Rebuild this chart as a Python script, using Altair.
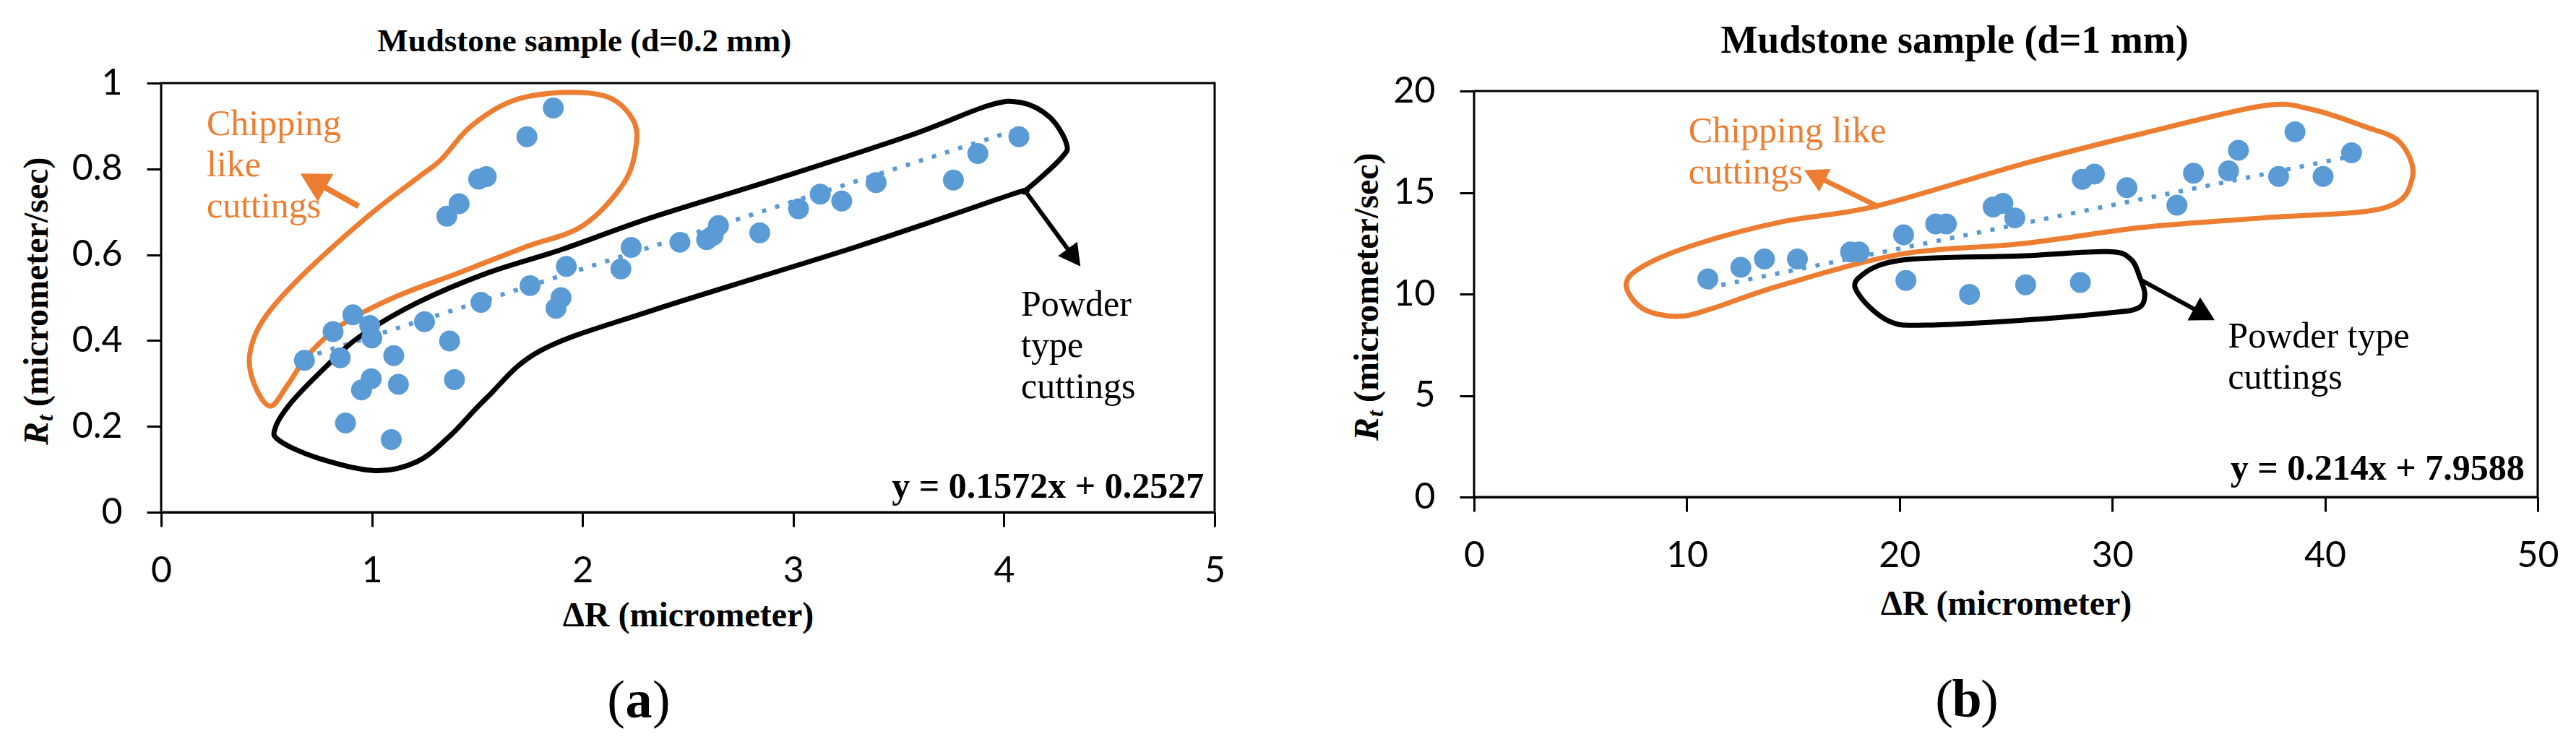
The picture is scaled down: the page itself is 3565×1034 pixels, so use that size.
import math
import altair as alt
import pandas as pd

# ---------------- data ----------------
# Panel (a): Mudstone sample (d=0.2 mm)
a_dr = [0.68, 0.816, 0.85, 0.91, 0.99, 1.0, 0.875, 0.951, 0.997, 1.092, 1.104, 1.126,
        1.25, 1.369, 1.392, 1.356, 1.414, 1.507, 1.543, 1.736, 1.861, 1.518, 1.751,
        1.874, 1.898, 1.923, 2.182, 2.231, 2.462, 2.589, 2.62, 2.645, 2.841, 3.025,
        3.128, 3.23, 3.393, 3.76, 3.876, 4.071]
a_rt = [0.354, 0.421, 0.36, 0.46, 0.435, 0.406, 0.208, 0.285, 0.311, 0.169, 0.365, 0.298,
        0.444, 0.399, 0.309, 0.69, 0.719, 0.776, 0.782, 0.875, 0.942, 0.489, 0.528,
        0.475, 0.5, 0.573, 0.567, 0.617, 0.629, 0.635, 0.645, 0.668, 0.651, 0.707,
        0.741, 0.725, 0.768, 0.774, 0.836, 0.875]
a_slope, a_intercept = 0.1572, 0.2527
a_eq = "y = 0.1572x + 0.2527"

# Panel (b): Mudstone sample (d=1 mm)
b_dr = [10.99, 12.54, 13.65, 15.20, 17.7, 18.1, 20.19, 21.7, 22.2, 24.40, 24.86, 25.42,
        28.59, 29.16, 30.69, 33.04, 33.82, 35.47, 35.93, 37.82, 38.59, 39.91, 41.25,
        20.30, 23.29, 25.93, 28.50]
b_rt = [10.75, 11.32, 11.73, 11.73, 12.07, 12.07, 12.92, 13.45, 13.45, 14.29, 14.47, 13.75,
        15.65, 15.91, 15.24, 14.38, 15.95, 16.07, 17.08, 15.79, 17.99, 15.79, 16.96,
        10.67, 9.98, 10.45, 10.57]
b_slope, b_intercept = 0.214, 7.9588
b_eq = "y = 0.214x + 7.9588"

# hand-drawn enclosures (data units)
a_chip_x = [0.518, 0.443, 0.420, 0.483, 0.660, 0.975, 1.211, 1.329, 1.467, 1.664, 1.900, 2.117,
            2.235, 2.255, 2.196, 1.999, 1.723, 1.408, 1.113, 0.857, 0.699, 0.601]
a_chip_y = [0.247, 0.297, 0.367, 0.447, 0.547, 0.687, 0.777, 0.822, 0.898, 0.958, 0.978, 0.968,
            0.918, 0.858, 0.767, 0.667, 0.617, 0.557, 0.502, 0.437, 0.367, 0.297]
a_pow_x = [0.542, 0.620, 0.778, 0.936, 1.211, 1.546, 1.900, 2.330, 2.942, 3.554, 3.922, 4.079,
           4.216, 4.296, 4.273, 4.102, 4.045, 3.309, 2.329, 1.802, 1.546, 1.369, 1.211, 1.014,
           0.739, 0.561]
a_pow_y = [0.197, 0.257, 0.337, 0.407, 0.487, 0.557, 0.612, 0.687, 0.780, 0.878, 0.947, 0.955,
           0.921, 0.860, 0.826, 0.750, 0.742, 0.620, 0.470, 0.377, 0.267, 0.177, 0.117, 0.097,
           0.127, 0.167]
b_chip_x = [7.15, 8.08, 10.62, 14.52, 18.9, 25.76, 31.42, 37.08, 39.34, 41.83, 43.52, 44.11,
            42.74, 37.08, 31.42, 25.76, 20.10, 14.44, 11.05, 9.5, 7.9]
b_chip_y = [10.50, 11.45, 12.51, 13.57, 14.33, 16.40, 17.91, 19.27, 19.10, 18.26, 17.48, 15.75,
            14.23, 13.75, 13.28, 12.48, 11.97, 10.43, 9.24, 8.9, 9.3]
b_pow_x = [18.06, 20.10, 25.76, 29.73, 30.86, 31.31, 31.53, 31.20, 29.73, 25.76, 21.24, 19.54, 18.18]
b_pow_y = [10.78, 11.67, 11.88, 12.09, 11.73, 10.78, 9.95, 9.30, 9.06, 8.71, 8.47, 8.65, 9.84]

# arrows: tail -> tip (data units)
a_arrows = [  # x0, y0, x1, y1, color, width, head length
    (0.937, 0.713, 0.661, 0.789, "#ED7D31", 8, 40),
    (4.102, 0.748, 4.363, 0.573, "black", 6, 30),
]
b_arrows = [
    (19.03, 14.29, 15.52, 16.10, "#ED7D31", 7, 32),
    (31.40, 10.66, 34.82, 8.71, "black", 6, 33),
]

# annotation labels
a_notes = [(0.216, 0.878, ["Chipping", "like", "cuttings"], "#ED7D31"),
           (4.081, 0.4575, ["Powder", "type", "cuttings"], "black")]
b_notes = [(10.08, 17.49, ["Chipping like", "cuttings"], "#ED7D31"),
           (35.44, 7.36, ["Powder type", "cuttings"], "black")]

BLUE = "#5B9BD5"
SERIF = "Liberation Serif"
SANS = "Lato"


def panel(dr, rt, slope, intercept, eq, eq_pos, chip, pow_, arrows, notes,
          xdom, xvals, xfmt, ydom, yvals, yfmt, width, height, top_gap,
          title, title_size, title_offset, title_dx, title_pad,
          ytitle_x, ytitle_bottom, sub_letter, sub_x, sub_y):
    sx = width / (xdom[1] - xdom[0])
    sy = height / (ydom[1] - ydom[0])
    ydraw = [ydom[0], ydom[1] + top_gap / sy]
    xs = alt.Scale(domain=xdom, nice=False, zero=False)
    ys = alt.Scale(domain=ydraw, nice=False, zero=False)
    xaxis = alt.Axis(values=xvals, format=xfmt, tickSize=20, tickWidth=3, tickColor="black",
                     domainColor="black", domainWidth=3, labelFont=SANS, labelFontSize=50,
                     labelColor="black", labelPadding=36, labelFlush=False, grid=False,
                     title="ΔR (micrometer)", titleFont=SERIF, titleFontSize=48,
                     titleFontWeight="bold", titleColor="black", titlePadding=title_pad)
    yaxis = alt.Axis(values=yvals, format=yfmt, tickSize=20, tickWidth=3, tickColor="black",
                     domain=False, labelFont=SANS, labelFontSize=50,
                     labelColor="black", labelPadding=34, labelFlush=False, grid=False,
                     title=None)

    frame = alt.Chart(pd.DataFrame({"x0": [xdom[0]], "x1": [xdom[1]],
                                    "y0": [ydom[0]], "y1": [ydom[1]]})).mark_rect(
        fillOpacity=0, stroke="black", strokeWidth=3).encode(
        x=alt.X("x0:Q", scale=xs, axis=xaxis), x2="x1:Q",
        y=alt.Y("y0:Q", scale=ys, axis=yaxis), y2="y1:Q")

    pts = pd.DataFrame({"dr": dr, "rt": rt})
    points = alt.Chart(pts).mark_circle(size=840, color=BLUE, opacity=1).encode(
        x=alt.X("dr:Q", scale=xs), y=alt.Y("rt:Q", scale=ys))

    tx = [min(dr), max(dr)]
    trend_df = pd.DataFrame({"dr": tx, "rt": [slope * v + intercept for v in tx]})
    trend = alt.Chart(trend_df).mark_line(color=BLUE, strokeWidth=6,
                                          strokeDash=[6, 13]).encode(
        x=alt.X("dr:Q", scale=xs), y=alt.Y("rt:Q", scale=ys))

    layers = [frame, trend]
    for (ox, oy), col in ((chip, "#ED7D31"), (pow_, "black")):
        d = pd.DataFrame({"dr": ox, "rt": oy, "i": list(range(len(ox)))})
        layers.append(alt.Chart(d).mark_line(color=col, strokeWidth=7,
                                             interpolate="cardinal-closed").encode(
            x=alt.X("dr:Q", scale=xs), y=alt.Y("rt:Q", scale=ys),
            order=alt.Order("i:Q")))

    rows, heads = [], []
    for x0, y0, x1, y1, col, w, hl in arrows:
        dxp, dyp = (x1 - x0) * sx, -(y1 - y0) * sy
        ln = math.hypot(dxp, dyp)
        ux, uy = dxp / ln, dyp / ln
        ex = x1 - ux * hl * 0.6 / sx
        ey = y1 + uy * hl * 0.6 / sy
        ang = math.degrees(math.atan2(dxp, -dyp)) % 360
        rows.append({"dr": x0, "rt": y0, "dr2": ex, "rt2": ey, "c": col, "w": w})
        heads.append({"dr": x1, "rt": y1, "c": col, "a": ang, "s": (2 * hl) ** 2})
    for r in rows:
        layers.append(alt.Chart(pd.DataFrame([r])).mark_rule(
            color=r["c"], strokeWidth=r["w"]).encode(
            x=alt.X("dr:Q", scale=xs), y=alt.Y("rt:Q", scale=ys),
            x2="dr2:Q", y2="rt2:Q"))
    layers.append(alt.Chart(pd.DataFrame(heads)).mark_point(
        shape="M0,0L0.55,1L-0.55,1Z", filled=True, opacity=1, strokeWidth=0).encode(
        x=alt.X("dr:Q", scale=xs), y=alt.Y("rt:Q", scale=ys),
        angle=alt.Angle("a:Q", scale=None), size=alt.Size("s:Q", scale=None),
        color=alt.Color("c:N", scale=None)))

    for nx, ny, lines, col in notes:
        d = pd.DataFrame({"dr": [nx], "rt": [ny]})
        layers.append(alt.Chart(d).mark_text(
            text=lines, font=SERIF, fontSize=50, color=col, align="left",
            baseline="alphabetic", lineHeight=57).encode(
            x=alt.X("dr:Q", scale=xs), y=alt.Y("rt:Q", scale=ys)))

    layers.append(alt.Chart(pd.DataFrame({"dr": [eq_pos[0]], "rt": [eq_pos[1]]})).mark_text(
        text=eq, font=SERIF, fontSize=50, fontWeight="bold", color="black",
        align="right", baseline="alphabetic").encode(
        x=alt.X("dr:Q", scale=xs), y=alt.Y("rt:Q", scale=ys)))

    one = pd.DataFrame({"k": [0]})
    # y-axis title: bold italic R with subscript t, then "(micrometer/sec)"
    layers.append(alt.Chart(one).mark_text(
        text="R", font=SERIF, fontSize=48, fontWeight="bold", fontStyle="italic",
        angle=270, align="left", baseline="middle", color="black").encode(
        x=alt.value(ytitle_x), y=alt.value(ytitle_bottom)))
    layers.append(alt.Chart(one).mark_text(
        text="t", font=SERIF, fontSize=32, fontWeight="bold", fontStyle="italic",
        angle=270, align="left", baseline="middle", color="black").encode(
        x=alt.value(ytitle_x + 11), y=alt.value(ytitle_bottom - 33)))
    layers.append(alt.Chart(one).mark_text(
        text="(micrometer/sec)", font=SERIF, fontSize=48, fontWeight="bold",
        angle=270, align="left", baseline="middle", color="black").encode(
        x=alt.value(ytitle_x), y=alt.value(ytitle_bottom - 53)))

    # sub-figure caption "(a)" / "(b)"
    half = 19
    layers.append(alt.Chart(one).mark_text(
        text="(", font=SERIF, fontSize=74, align="right", baseline="middle",
        color="black").encode(x=alt.value(sub_x - half), y=alt.value(sub_y)))
    layers.append(alt.Chart(one).mark_text(
        text=sub_letter, font=SERIF, fontSize=74, fontWeight="bold", align="center",
        baseline="middle", color="black").encode(x=alt.value(sub_x), y=alt.value(sub_y)))
    layers.append(alt.Chart(one).mark_text(
        text=")", font=SERIF, fontSize=74, align="left", baseline="middle",
        color="black").encode(x=alt.value(sub_x + half), y=alt.value(sub_y)))

    layers.append(points)
    return alt.layer(*layers).properties(
        width=width, height=height + top_gap,
        title=alt.TitleParams(title, font=SERIF, fontSize=title_size, fontWeight="bold",
                              color="black", frame="bounds", anchor="middle",
                              offset=title_offset, dx=title_dx))


pa = panel(a_dr, a_rt, a_slope, a_intercept, a_eq, (4.949, 0.033),
           (a_chip_x, a_chip_y), (a_pow_x, a_pow_y), a_arrows, a_notes,
           [0, 5], [0, 1, 2, 3, 4, 5], "d", [0, 1], [0, 0.2, 0.4, 0.6, 0.8, 1.0], ".1~f",
           1458, 594, 0, "Mudstone sample (d=0.2 mm)", 45, 10, -53, 13,
           -171, 501, "a", 661, 856)
pb = panel(b_dr, b_rt, b_slope, b_intercept, b_eq, (49.38, 0.87),
           (b_chip_x, b_chip_y), (b_pow_x, b_pow_y), b_arrows, b_notes,
           [0, 50], [0, 10, 20, 30, 40, 50], "d", [0, 20], [0, 5, 10, 15, 20], "d",
           1472, 562, 11, "Mudstone sample (d=1 mm)", 54, 17, 0, 18,
           -147, 495, "b", 682, 855)

chart = alt.hconcat(pa, pb, spacing=172).properties(
    padding={"left": 19, "top": 21, "right": 5, "bottom": 5},
    background="white",
).configure_view(strokeWidth=0)

chart.save("out.html", embed_options={"renderer": "svg", "actions": False})
